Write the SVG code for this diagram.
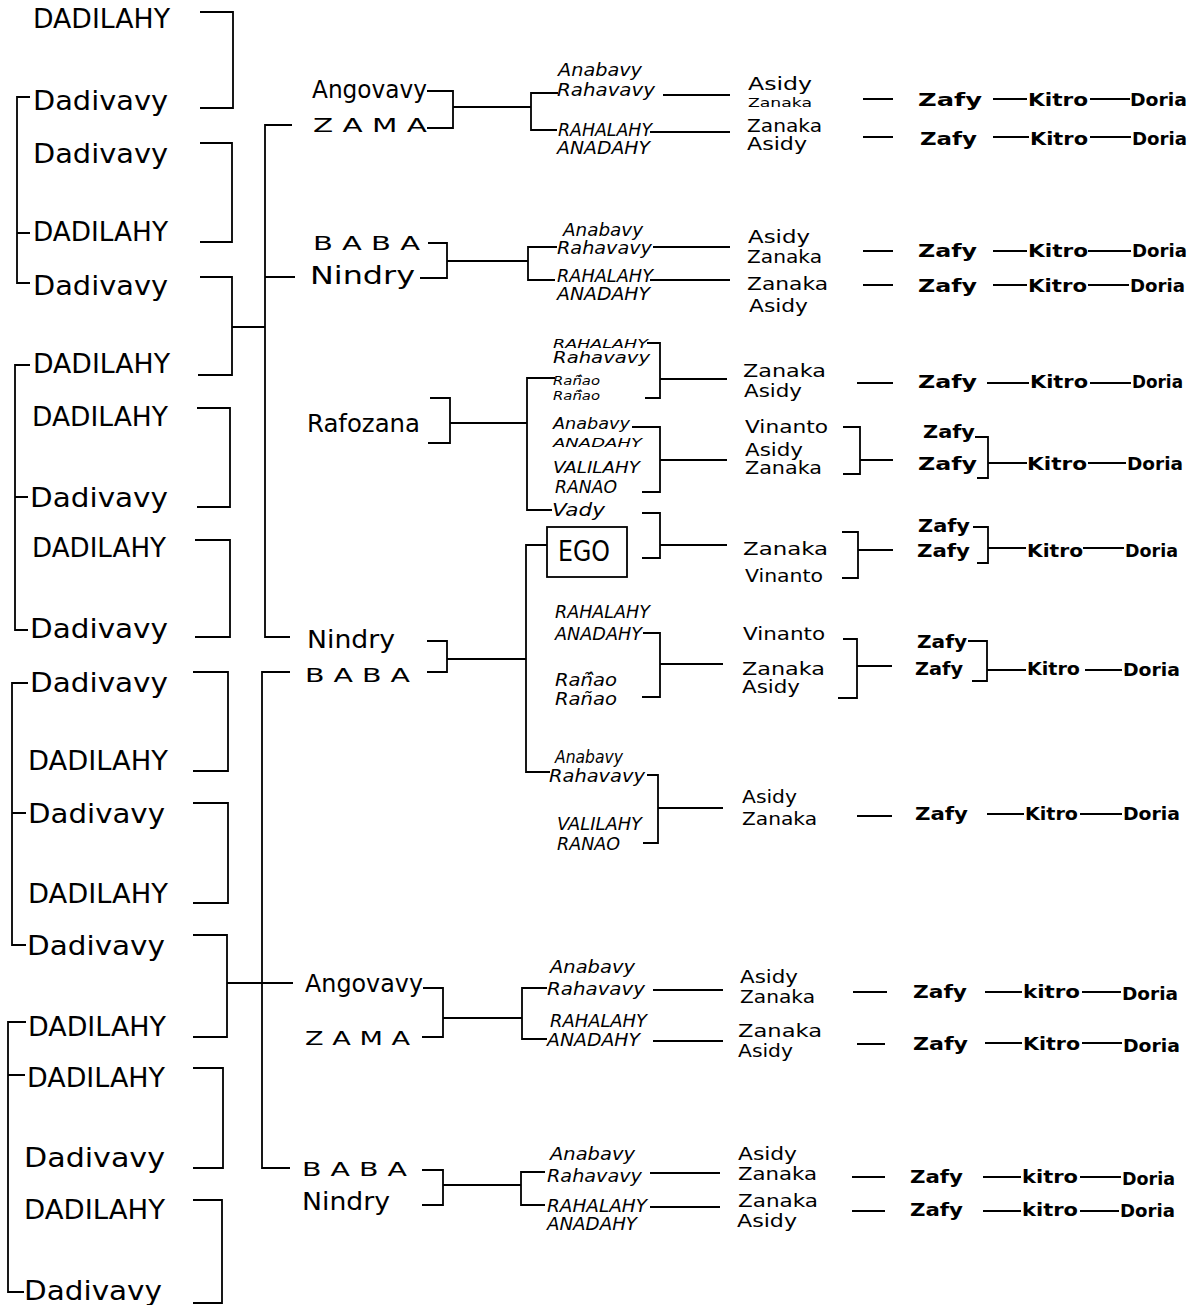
<svg xmlns="http://www.w3.org/2000/svg" width="1200" height="1305" viewBox="0 0 1200 1305">
<style>
text{font-family:"DejaVu Sans","Liberation Sans",sans-serif;fill:#000}
.L{font-size:26px}
.M{font-size:25px}
.S{font-size:20px}
.I{font-size:17px;font-style:italic}
.i{font-size:13px;font-style:italic}
.j{font-size:15px;font-style:italic}
.R{font-size:17px}
.r{font-size:13px}
.D{font-size:17px;font-weight:bold}
.E{font-size:28px}
#connectors path{fill:none;stroke:#000;stroke-width:1.8}
.box{fill:none;stroke:#000;stroke-width:1.8}
</style>
<rect width="1200" height="1305" fill="#fff"/>
<g id="connectors">
<path d="M30,97H17V283H30 M17,233H30 M30,365H15V630H28 M15,497H28 M28,683H12V945H26 M12,813H26 M26,1022H8V1292H24 M8,1075H25"/>
<path d="M200,12H233V108H200 M200,143H232V242H200 M200,277H232V375H198 M232,327H265 M197,408H230V507H197 M195,540H230V637H195 M193,672H228V771H193 M193,803H228V903H193 M193,935H227V1037H193 M227,983H293 M193,1068H223V1168H193 M193,1200H222V1303H193"/>
<path d="M292,125H265V637H290 M265,277H295 M290,672H262V1168H290"/>
<path d="M427,91H453V128H427 M453,107H531 M558,93H531V130H557 M663,95H730 M650,132H730 M863,99H893 M993,99H1027 M1090,99H1130 M863,137H893 M993,137H1029 M1090,137H1131"/>
<path d="M428,243H447V278H420 M447,261H528 M557,247H528V280H555 M653,247H730 M650,280H730 M863,251H893 M993,251H1027 M1088,251H1131 M863,285H893 M993,285H1027 M1088,285H1129"/>
<path d="M430,398H450V443H428 M450,423H527 M555,378H527V510H552 M647,343H660V398H645 M660,379H727 M632,427H660V492H642 M660,460H727 M642,513H660V558H642 M660,545H727 M547,545H526V772H550"/>
<path d="M857,383H893 M987,383H1029 M1090,383H1131 M843,427H860V474H843 M860,460H893 M975,437H988V478H977 M988,463H1027 M1088,463H1126 M842,532H858V578H842 M858,550H893 M973,527H988V563H977 M988,548H1026 M1083,548H1124"/>
<path d="M427,641H447V672H427 M447,659H526 M643,633H660V697H642 M660,664H723 M647,775H658V843H643 M658,808H723 M843,639H857V698H838 M857,666H892 M968,641H987V681H972 M987,670H1026 M1085,670H1122 M857,816H892 M987,814H1024 M1080,814H1122"/>
<path d="M423,988H443V1037H422 M443,1018H522 M547,988H522V1039H547 M653,990H723 M653,1041H723 M853,992H887 M985,992H1022 M1082,992H1121 M857,1044H885 M985,1043H1022 M1082,1043H1122"/>
<path d="M422,1170H443V1205H422 M443,1185H521 M545,1172H521V1205H545 M650,1173H720 M650,1207H720 M852,1177H885 M983,1177H1021 M1080,1177H1121 M852,1211H885 M983,1211H1021 M1080,1211H1119"/>
</g>
<g id="ancestors">
<g id="a1"><text class="L" x="33" y="28" textLength="137" lengthAdjust="spacingAndGlyphs">DADILAHY</text></g>
<g id="a2"><text class="L" x="33" y="110" textLength="135" lengthAdjust="spacingAndGlyphs">Dadivavy</text></g>
<g id="a3"><text class="L" x="33" y="163" textLength="135" lengthAdjust="spacingAndGlyphs">Dadivavy</text></g>
<g id="a4"><text class="L" x="33" y="241" textLength="135" lengthAdjust="spacingAndGlyphs">DADILAHY</text></g>
<g id="a5"><text class="L" x="33" y="295" textLength="135" lengthAdjust="spacingAndGlyphs">Dadivavy</text></g>
<g id="a6"><text class="L" x="33" y="373" textLength="137" lengthAdjust="spacingAndGlyphs">DADILAHY</text></g>
<g id="a7"><text class="L" x="32" y="426" textLength="136" lengthAdjust="spacingAndGlyphs">DADILAHY</text></g>
<g id="a8"><text class="L" x="30" y="507" textLength="138" lengthAdjust="spacingAndGlyphs">Dadivavy</text></g>
<g id="a9"><text class="L" x="32" y="557" textLength="134" lengthAdjust="spacingAndGlyphs">DADILAHY</text></g>
<g id="a10"><text class="L" x="30" y="638" textLength="138" lengthAdjust="spacingAndGlyphs">Dadivavy</text></g>
<g id="a11"><text class="L" x="30" y="692" textLength="138" lengthAdjust="spacingAndGlyphs">Dadivavy</text></g>
<g id="a12"><text class="L" x="28" y="770" textLength="140" lengthAdjust="spacingAndGlyphs">DADILAHY</text></g>
<g id="a13"><text class="L" x="28" y="823" textLength="137" lengthAdjust="spacingAndGlyphs">Dadivavy</text></g>
<g id="a14"><text class="L" x="28" y="903" textLength="140" lengthAdjust="spacingAndGlyphs">DADILAHY</text></g>
<g id="a15"><text class="L" x="27" y="955" textLength="138" lengthAdjust="spacingAndGlyphs">Dadivavy</text></g>
<g id="a16"><text class="L" x="28" y="1036" textLength="138" lengthAdjust="spacingAndGlyphs">DADILAHY</text></g>
<g id="a17"><text class="L" x="27" y="1087" textLength="138" lengthAdjust="spacingAndGlyphs">DADILAHY</text></g>
<g id="a18"><text class="L" x="24" y="1167" textLength="141" lengthAdjust="spacingAndGlyphs">Dadivavy</text></g>
<g id="a19"><text class="L" x="24" y="1219" textLength="141" lengthAdjust="spacingAndGlyphs">DADILAHY</text></g>
<g id="a20"><text class="L" x="24" y="1300" textLength="138" lengthAdjust="spacingAndGlyphs">Dadivavy</text></g>
</g>
<g id="parents">
<g id="p1"><text class="M" x="312" y="98" textLength="115" lengthAdjust="spacingAndGlyphs">Angovavy</text></g>
<g id="p2"><text class="S" x="313" y="132" textLength="114" lengthAdjust="spacingAndGlyphs">Z A M A</text></g>
<g id="p3"><text class="S" x="313" y="250" textLength="107" lengthAdjust="spacingAndGlyphs">B A B A</text></g>
<g id="p4"><text class="M" x="310" y="284" textLength="105" lengthAdjust="spacingAndGlyphs">Nindry</text></g>
<g id="p5"><text class="M" x="307" y="432" textLength="113" lengthAdjust="spacingAndGlyphs">Rafozana</text></g>
<g id="p6"><text class="M" x="307" y="648" textLength="88" lengthAdjust="spacingAndGlyphs">Nindry</text></g>
<g id="p7"><text class="S" x="305" y="682" textLength="105" lengthAdjust="spacingAndGlyphs">B A B A</text></g>
<g id="p8"><text class="M" x="305" y="992" textLength="118" lengthAdjust="spacingAndGlyphs">Angovavy</text></g>
<g id="p9"><text class="S" x="305" y="1045" textLength="105" lengthAdjust="spacingAndGlyphs">Z A M A</text></g>
<g id="p10"><text class="S" x="302" y="1176" textLength="105" lengthAdjust="spacingAndGlyphs">B A B A</text></g>
<g id="p11"><text class="M" x="302" y="1210" textLength="88" lengthAdjust="spacingAndGlyphs">Nindry</text></g>
</g>
<g id="siblings">
<g id="s1"><text class="I" x="558" y="76" textLength="84" lengthAdjust="spacingAndGlyphs">Anabavy</text><text class="I" x="557" y="96" textLength="98" lengthAdjust="spacingAndGlyphs">Rahavavy</text><text class="I" x="558" y="136" textLength="94" lengthAdjust="spacingAndGlyphs">RAHALAHY</text><text class="I" x="557" y="154" textLength="93" lengthAdjust="spacingAndGlyphs">ANADAHY</text></g>
<g id="s2"><text class="I" x="563" y="236" textLength="80" lengthAdjust="spacingAndGlyphs">Anabavy</text><text class="I" x="557" y="254" textLength="95" lengthAdjust="spacingAndGlyphs">Rahavavy</text><text class="I" x="557" y="282" textLength="96" lengthAdjust="spacingAndGlyphs">RAHALAHY</text><text class="I" x="557" y="300" textLength="93" lengthAdjust="spacingAndGlyphs">ANADAHY</text></g>
<g id="s3"><text class="i" x="553" y="348" textLength="95" lengthAdjust="spacingAndGlyphs">RAHALAHY</text><text class="j" x="553" y="363" textLength="97" lengthAdjust="spacingAndGlyphs">Rahavavy</text><text class="i" x="553" y="385" textLength="47" lengthAdjust="spacingAndGlyphs">Ra&#241;&#770;ao</text><text class="i" x="553" y="400" textLength="47" lengthAdjust="spacingAndGlyphs">Ra&#241;&#770;ao</text></g>
<g id="s4"><text class="j" x="553" y="429" textLength="77" lengthAdjust="spacingAndGlyphs">Anabavy</text><text class="i" x="553" y="447" textLength="89" lengthAdjust="spacingAndGlyphs">ANADAHY</text><text class="j" x="553" y="473" textLength="87" lengthAdjust="spacingAndGlyphs">VALILAHY</text><text class="I" x="555" y="493" textLength="62" lengthAdjust="spacingAndGlyphs">RANAO</text></g>
<g id="s5"><text class="I" x="552" y="516" textLength="53" lengthAdjust="spacingAndGlyphs">Vady</text></g>
<g id="ego"><rect class="box" x="547" y="527" width="80" height="50"/><text class="E" x="558" y="561" textLength="52" lengthAdjust="spacingAndGlyphs">EGO</text></g>
<g id="s6"><text class="I" x="555" y="618" textLength="95" lengthAdjust="spacingAndGlyphs">RAHALAHY</text><text class="I" x="555" y="640" textLength="87" lengthAdjust="spacingAndGlyphs">ANADAHY</text><text class="I" x="555" y="686" textLength="62" lengthAdjust="spacingAndGlyphs">Ra&#241;&#770;ao</text><text class="I" x="555" y="705" textLength="62" lengthAdjust="spacingAndGlyphs">Ra&#241;ao</text></g>
<g id="s7"><text class="I" x="555" y="763" textLength="68" lengthAdjust="spacingAndGlyphs">Anabavy</text><text class="I" x="549" y="782" textLength="96" lengthAdjust="spacingAndGlyphs">Rahavavy</text><text class="I" x="557" y="830" textLength="85" lengthAdjust="spacingAndGlyphs">VALILAHY</text><text class="I" x="557" y="850" textLength="63" lengthAdjust="spacingAndGlyphs">RANAO</text></g>
<g id="s8"><text class="I" x="550" y="973" textLength="85" lengthAdjust="spacingAndGlyphs">Anabavy</text><text class="I" x="547" y="995" textLength="98" lengthAdjust="spacingAndGlyphs">Rahavavy</text><text class="I" x="550" y="1027" textLength="97" lengthAdjust="spacingAndGlyphs">RAHALAHY</text><text class="I" x="547" y="1046" textLength="93" lengthAdjust="spacingAndGlyphs">ANADAHY</text></g>
<g id="s9"><text class="I" x="550" y="1160" textLength="85" lengthAdjust="spacingAndGlyphs">Anabavy</text><text class="I" x="547" y="1182" textLength="95" lengthAdjust="spacingAndGlyphs">Rahavavy</text><text class="I" x="547" y="1212" textLength="100" lengthAdjust="spacingAndGlyphs">RAHALAHY</text><text class="I" x="547" y="1230" textLength="90" lengthAdjust="spacingAndGlyphs">ANADAHY</text></g>
</g>
<g id="children">
<g id="c1"><text class="R" x="748" y="90" textLength="64" lengthAdjust="spacingAndGlyphs">Asidy</text><text class="r" x="748" y="107" textLength="64" lengthAdjust="spacingAndGlyphs">Zanaka</text></g>
<g id="c2"><text class="R" x="747" y="132" textLength="75" lengthAdjust="spacingAndGlyphs">Zanaka</text><text class="R" x="747" y="150" textLength="60" lengthAdjust="spacingAndGlyphs">Asidy</text></g>
<g id="c3"><text class="R" x="748" y="243" textLength="62" lengthAdjust="spacingAndGlyphs">Asidy</text><text class="R" x="747" y="263" textLength="75" lengthAdjust="spacingAndGlyphs">Zanaka</text></g>
<g id="c4"><text class="R" x="747" y="290" textLength="81" lengthAdjust="spacingAndGlyphs">Zanaka</text><text class="R" x="749" y="312" textLength="59" lengthAdjust="spacingAndGlyphs">Asidy</text></g>
<g id="c5"><text class="R" x="743" y="377" textLength="83" lengthAdjust="spacingAndGlyphs">Zanaka</text><text class="R" x="744" y="397" textLength="58" lengthAdjust="spacingAndGlyphs">Asidy</text></g>
<g id="c6"><text class="R" x="745" y="433" textLength="83" lengthAdjust="spacingAndGlyphs">Vinanto</text><text class="R" x="745" y="456" textLength="58" lengthAdjust="spacingAndGlyphs">Asidy</text><text class="R" x="745" y="474" textLength="77" lengthAdjust="spacingAndGlyphs">Zanaka</text></g>
<g id="c7"><text class="R" x="743" y="555" textLength="85" lengthAdjust="spacingAndGlyphs">Zanaka</text><text class="R" x="745" y="582" textLength="78" lengthAdjust="spacingAndGlyphs">Vinanto</text></g>
<g id="c8"><text class="R" x="743" y="640" textLength="82" lengthAdjust="spacingAndGlyphs">Vinanto</text><text class="R" x="742" y="675" textLength="83" lengthAdjust="spacingAndGlyphs">Zanaka</text><text class="R" x="742" y="693" textLength="58" lengthAdjust="spacingAndGlyphs">Asidy</text></g>
<g id="c9"><text class="R" x="742" y="803" textLength="55" lengthAdjust="spacingAndGlyphs">Asidy</text><text class="R" x="742" y="825" textLength="75" lengthAdjust="spacingAndGlyphs">Zanaka</text></g>
<g id="c10"><text class="R" x="740" y="983" textLength="58" lengthAdjust="spacingAndGlyphs">Asidy</text><text class="R" x="740" y="1003" textLength="75" lengthAdjust="spacingAndGlyphs">Zanaka</text></g>
<g id="c11"><text class="R" x="738" y="1037" textLength="84" lengthAdjust="spacingAndGlyphs">Zanaka</text><text class="R" x="738" y="1057" textLength="55" lengthAdjust="spacingAndGlyphs">Asidy</text></g>
<g id="c12"><text class="R" x="738" y="1160" textLength="59" lengthAdjust="spacingAndGlyphs">Asidy</text><text class="R" x="738" y="1180" textLength="79" lengthAdjust="spacingAndGlyphs">Zanaka</text></g>
<g id="c13"><text class="R" x="738" y="1207" textLength="80" lengthAdjust="spacingAndGlyphs">Zanaka</text><text class="R" x="737" y="1227" textLength="60" lengthAdjust="spacingAndGlyphs">Asidy</text></g>
</g>
<g id="descendants">
<g id="d1"><text class="D" x="918" y="106" textLength="64" lengthAdjust="spacingAndGlyphs">Zafy</text><text class="D" x="1028" y="106" textLength="60" lengthAdjust="spacingAndGlyphs">Kitro</text><text class="D" x="1130" y="106" textLength="57" lengthAdjust="spacingAndGlyphs">Doria</text></g>
<g id="d2"><text class="D" x="920" y="145" textLength="57" lengthAdjust="spacingAndGlyphs">Zafy</text><text class="D" x="1030" y="145" textLength="58" lengthAdjust="spacingAndGlyphs">Kitro</text><text class="D" x="1132" y="145" textLength="55" lengthAdjust="spacingAndGlyphs">Doria</text></g>
<g id="d3"><text class="D" x="918" y="257" textLength="59" lengthAdjust="spacingAndGlyphs">Zafy</text><text class="D" x="1028" y="257" textLength="60" lengthAdjust="spacingAndGlyphs">Kitro</text><text class="D" x="1132" y="257" textLength="55" lengthAdjust="spacingAndGlyphs">Doria</text></g>
<g id="d4"><text class="D" x="918" y="292" textLength="59" lengthAdjust="spacingAndGlyphs">Zafy</text><text class="D" x="1028" y="292" textLength="59" lengthAdjust="spacingAndGlyphs">Kitro</text><text class="D" x="1130" y="292" textLength="55" lengthAdjust="spacingAndGlyphs">Doria</text></g>
<g id="d5"><text class="D" x="918" y="388" textLength="59" lengthAdjust="spacingAndGlyphs">Zafy</text><text class="D" x="1030" y="388" textLength="58" lengthAdjust="spacingAndGlyphs">Kitro</text><text class="D" x="1132" y="388" textLength="51" lengthAdjust="spacingAndGlyphs">Doria</text></g>
<g id="d6"><text class="D" x="923" y="438" textLength="52" lengthAdjust="spacingAndGlyphs">Zafy</text><text class="D" x="918" y="470" textLength="59" lengthAdjust="spacingAndGlyphs">Zafy</text><text class="D" x="1027" y="470" textLength="60" lengthAdjust="spacingAndGlyphs">Kitro</text><text class="D" x="1127" y="470" textLength="56" lengthAdjust="spacingAndGlyphs">Doria</text></g>
<g id="d7"><text class="D" x="918" y="532" textLength="52" lengthAdjust="spacingAndGlyphs">Zafy</text><text class="D" x="917" y="557" textLength="53" lengthAdjust="spacingAndGlyphs">Zafy</text><text class="D" x="1027" y="557" textLength="56" lengthAdjust="spacingAndGlyphs">Kitro</text><text class="D" x="1125" y="557" textLength="53" lengthAdjust="spacingAndGlyphs">Doria</text></g>
<g id="d8"><text class="D" x="917" y="648" textLength="50" lengthAdjust="spacingAndGlyphs">Zafy</text><text class="D" x="915" y="675" textLength="48" lengthAdjust="spacingAndGlyphs">Zafy</text><text class="D" x="1027" y="675" textLength="53" lengthAdjust="spacingAndGlyphs">Kitro</text><text class="D" x="1123" y="676" textLength="57" lengthAdjust="spacingAndGlyphs">Doria</text></g>
<g id="d9"><text class="D" x="915" y="820" textLength="53" lengthAdjust="spacingAndGlyphs">Zafy</text><text class="D" x="1025" y="820" textLength="53" lengthAdjust="spacingAndGlyphs">Kitro</text><text class="D" x="1123" y="820" textLength="57" lengthAdjust="spacingAndGlyphs">Doria</text></g>
<g id="d10"><text class="D" x="913" y="998" textLength="54" lengthAdjust="spacingAndGlyphs">Zafy</text><text class="D" x="1023" y="998" textLength="57" lengthAdjust="spacingAndGlyphs">kitro</text><text class="D" x="1122" y="1000" textLength="56" lengthAdjust="spacingAndGlyphs">Doria</text></g>
<g id="d11"><text class="D" x="913" y="1050" textLength="55" lengthAdjust="spacingAndGlyphs">Zafy</text><text class="D" x="1023" y="1050" textLength="57" lengthAdjust="spacingAndGlyphs">Kitro</text><text class="D" x="1123" y="1052" textLength="57" lengthAdjust="spacingAndGlyphs">Doria</text></g>
<g id="d12"><text class="D" x="910" y="1183" textLength="53" lengthAdjust="spacingAndGlyphs">Zafy</text><text class="D" x="1022" y="1183" textLength="56" lengthAdjust="spacingAndGlyphs">kitro</text><text class="D" x="1122" y="1185" textLength="53" lengthAdjust="spacingAndGlyphs">Doria</text></g>
<g id="d13"><text class="D" x="910" y="1216" textLength="53" lengthAdjust="spacingAndGlyphs">Zafy</text><text class="D" x="1022" y="1216" textLength="56" lengthAdjust="spacingAndGlyphs">kitro</text><text class="D" x="1120" y="1217" textLength="55" lengthAdjust="spacingAndGlyphs">Doria</text></g>
</g>
</svg>
